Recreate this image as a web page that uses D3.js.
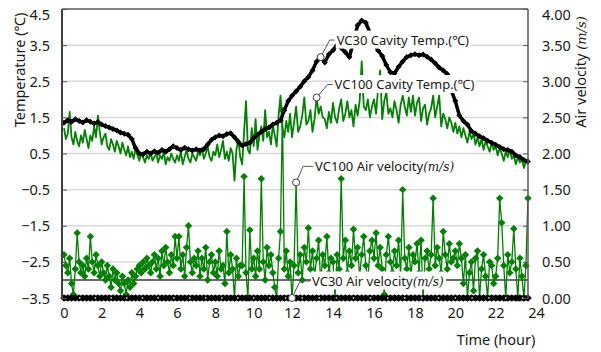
<!DOCTYPE html>
<html>
<head>
<meta charset="utf-8">
<script src="https://cdn.jsdelivr.net/npm/d3@7"></script>
<style>
  body { margin: 0; background: #fff; }
  svg { display: block; font-family: "Noto Sans", sans-serif; }
</style>
</head>
<body>
<svg id="chart"></svg>
<script>
// VC30 series are sampled every 0.2 hour, VC100 series every 0.1 hour, from 0:00
let coarseStep = 0.2
let fineStep = 0.1

let xTicks = [0, 2, 4, 6, 8, 10, 12, 14, 16, 18, 20, 22, 24]
let tempTicks = [-3.5, -2.5, -1.5, -0.5, 0.5, 1.5, 2.5, 3.5, 4.5]
let airTicks = [0, 0.5, 1, 1.5, 2, 2.5, 3, 3.5, 4]

// VC30 cavity temperature (deg C), every 0.2 h
let vc30Temp = [
  1.35, 1.42, 1.38, 1.45, 1.40, 1.36, 1.42, 1.38, 1.33, 1.37,
  1.30, 1.26, 1.22, 1.18, 1.14, 1.08, 1.05, 1.02, 0.90, 0.65,
  0.50, 0.48, 0.55, 0.50, 0.56, 0.52, 0.60, 0.55, 0.62, 0.70,
  0.65, 0.60, 0.66, 0.62, 0.58, 0.62, 0.58, 0.62, 0.75, 0.88,
  0.95, 1.00, 0.98, 1.04, 1.06, 0.95, 0.82, 0.72, 0.76, 0.80,
  0.92, 1.02, 1.10, 1.18, 1.22, 1.30, 1.35, 1.42, 1.70, 1.95,
  2.10, 2.22, 2.35, 2.50, 2.62, 2.80, 3.05, 3.17, 3.02, 3.25,
  3.36, 3.50, 3.42, 3.30, 3.17, 3.60, 4.05, 4.18, 4.12, 3.85,
  3.55, 3.35, 3.20, 2.95, 2.75, 2.72, 2.90, 3.05, 3.17, 3.22,
  3.25, 3.22, 3.24, 3.18, 3.10, 3.00, 2.88, 2.80, 2.70, 2.25,
  1.95, 1.55, 1.40, 1.30, 1.12, 1.05, 0.98, 0.92, 0.85, 0.80,
  0.74, 0.68, 0.62, 0.60, 0.55, 0.45, 0.40, 0.32, 0.28
]

// VC100 cavity temperature (deg C), every 0.1 h
let vc100Temp = [
  1.20, 0.90, 1.05, 1.65, 0.95, 0.75, 1.10, 0.85, 0.70, 1.00,
  0.80, 1.15, 0.90, 0.65, 1.00, 0.85, 1.25, 0.95, 1.55, 1.10,
  0.75, 0.95, 1.05, 0.70, 0.60, 0.90, 0.75, 0.55, 0.85, 0.70,
  0.50, 0.80, 0.60, 0.45, 0.70, 0.40, 0.55, 0.35, 0.65, 0.45,
  0.30, 0.50, 0.40, 0.25, 0.45, 0.35, 0.55, 0.30, 0.40, 0.50,
  0.25, 0.45, 0.35, 0.55, 0.20, 0.40, 0.30, 0.50, 0.35, 0.25,
  0.45, 0.30, 0.55, 0.20, 0.40, 0.60, 0.35, 0.25, 0.50, 0.40,
  0.30, 0.55, 0.45, 0.65, 0.35, 0.50, 0.70, 0.40, 0.30, 0.55,
  0.45, 0.75, 0.40, 0.60, 0.85, 0.35, 0.55, 0.30, 0.65, 0.50,
  -0.25, 0.60, 0.90, 0.40, 0.20, 1.10, 1.95, 0.60, 0.50, 1.20,
  0.70, 1.45, 0.60, 1.00, 1.25, 0.85, 1.70, 0.95, 1.10, 0.75,
  1.30, 1.00, 0.70, 1.55, 2.10, 1.20, 0.95, 1.40, 1.10, 1.60,
  0.95, 1.35, 1.80, 1.10, 1.25, 1.55, 2.05, 1.30, 1.40, 1.70,
  1.10, 1.45, 2.05, 1.60, 1.80, 1.50, 1.45, 1.20, 1.65, 1.35,
  1.90, 1.50, 1.35, 1.75, 2.00, 1.40, 1.60, 1.95, 1.50, 1.70,
  1.25, 1.85, 1.55, 1.95, 3.05, 1.80, 1.70, 2.00, 1.50, 1.80,
  2.00, 1.60, 2.30, 2.80, 1.45, 1.95, 2.20, 1.60, 1.75, 1.50,
  1.95, 1.70, 1.35, 1.85, 2.10, 1.80, 1.55, 2.05, 1.65, 2.10,
  1.55, 1.90, 2.05, 1.40, 1.75, 1.85, 1.30, 1.60, 1.75, 2.10,
  1.50, 1.80, 2.10, 1.25, 1.60, 1.45, 1.20, 1.50, 1.35, 1.10,
  1.35, 1.05, 1.25, 0.95, 1.20, 1.00, 0.80, 1.10, 0.90, 1.05,
  0.75, 0.95, 0.70, 0.90, 0.60, 0.85, 0.70, 0.55, 0.80, 0.60,
  0.70, 0.45, 0.65, 0.50, 0.30, 0.55, 0.40, 0.60, 0.35, 0.45,
  0.20, 0.40, 0.25, 0.35, 0.10, 0.30, 0.20
]

// VC100 air velocity (m/s), every 0.1 h
let vc100Air = [
  0.60, 0.45, 0.35, 0.55, 0.20, 0.05, 0.40, 0.90, 0.50, 0.35,
  0.45, 0.30, 0.55, 0.40, 0.85, 0.50, 0.35, 0.60, 0.45, 0.30,
  0.50, 0.35, 0.25, 0.45, 0.30, 0.15, 0.40, 0.25, 0.35, 0.20,
  0.10, 0.30, 0.20, 0.05, 0.25, 0.15, 0.35, 0.20, 0.30, 0.40,
  0.45, 0.35, 0.50, 0.40, 0.55, 0.45, 0.35, 0.50, 0.60, 0.40,
  0.55, 0.30, 0.65, 0.45, 0.70, 0.50, 0.35, 0.60, 0.45, 0.85,
  0.55, 0.85, 0.40, 0.60, 0.30, 0.70, 1.00, 0.50, 0.35, 0.55,
  0.45, 0.65, 0.30, 0.55, 0.40, 0.70, 0.25, 0.50, 0.60, 0.35,
  0.50, 0.30, 0.65, 0.40, 0.45, 0.20, 0.92, 0.35, 0.60, 0.40,
  0.00, 0.55, 0.30, 0.45, 0.45, 1.68, 0.35, 0.00, 0.94, 0.40,
  0.55, 0.30, 0.65, 0.40, 1.65, 0.50, 0.25, 0.70, 0.45, 0.60,
  0.35, 0.15, 0.00, 0.55, 0.92, 2.60, 0.40, 0.65, 0.30, 0.50,
  0.00, 0.45, 1.60, 0.35, 0.60, 0.25, 0.70, 0.50, 0.97, 0.40,
  0.65, 0.30, 0.55, 0.80, 0.20, 0.60, 0.45, 0.85, 0.35, 0.55,
  0.50, 0.00, 0.60, 0.40, 1.65, 0.55, 0.80, 0.35, 0.65, 0.45,
  0.95, 0.55, 0.70, 0.30, 0.60, 0.85, 0.45, 0.25, 0.65, 0.80,
  0.55, 0.90, 0.45, 0.70, 0.40, 0.05, 0.60, 0.85, 0.50, 0.35,
  0.65, 0.45, 0.80, 0.30, 1.50, 0.55, 0.40, 0.70, 0.30, 0.60,
  0.50, 0.75, 0.35, 0.80, 0.00, 0.55, 0.65, 0.40, 0.60, 1.38,
  0.45, 0.70, 0.55, 0.35, 0.92, 0.60, 0.40, 0.75, 0.50, 0.55,
  0.65, 0.45, 0.75, 0.55, 0.20, 0.60, 0.00, 0.35, 0.50, 0.10,
  0.55, 0.65, 0.00, 0.40, 0.60, 0.30, 0.00, 0.50, 0.45, 0.20,
  0.30, 0.55, 1.38, 1.04, 0.45, 0.00, 0.60, 0.35, 0.50, 0.96,
  0.40, 0.00, 0.55, 0.30, 0.00, 0.45, 1.38
]

// VC30 air velocity (m/s), every 0.2 h - stays at zero all day
let vc30Air = [
  0, 0, 0, 0, 0, 0, 0, 0, 0, 0, 0, 0, 0, 0, 0, 0, 0, 0, 0, 0,
  0, 0, 0, 0, 0, 0, 0, 0, 0, 0, 0, 0, 0, 0, 0, 0, 0, 0, 0, 0,
  0, 0, 0, 0, 0, 0, 0, 0, 0, 0, 0, 0, 0, 0, 0, 0, 0, 0, 0, 0,
  0, 0, 0, 0, 0, 0, 0, 0, 0, 0, 0, 0, 0, 0, 0, 0, 0, 0, 0, 0,
  0, 0, 0, 0, 0, 0, 0, 0, 0, 0, 0, 0, 0, 0, 0, 0, 0, 0, 0, 0,
  0, 0, 0, 0, 0, 0, 0, 0, 0, 0, 0, 0, 0, 0, 0, 0, 0, 0, 0
]

let width = 601
let height = 352
let plotLeft = 62
let plotRight = 528
let plotTop = 9
let plotBottom = 298

let green = '#008000'

let svg = d3.select('#chart')
    .attr('width', width)
    .attr('height', height)

// the time axis labels in the original are spaced a little unevenly
let xScale = d3.scaleLinear()
    .domain([0, 6, 12, 18, 24])
    .range([64, 177, 292, 415, 536])

let tempScale = d3.scaleLinear()
    .domain([-3.5, 4.5])
    .range([plotBottom, plotTop])

let airScale = d3.scaleLinear()
    .domain([0, 4])
    .range([plotBottom, plotTop])

let coarseX = (d, i) => xScale(i * coarseStep)
let fineX = (d, i) => xScale(i * fineStep)

// gridlines
svg.append('g')
    .selectAll('line')
    .data(tempTicks.slice(1, -1))
    .enter()
    .append('line')
    .attr('x1', plotLeft)
    .attr('x2', plotRight)
    .attr('y1', (d) => tempScale(d))
    .attr('y2', (d) => tempScale(d))
    .attr('stroke', '#d9d9d9')
    .attr('stroke-width', 1.5)

// reference line at 0.25 m/s
svg.append('line')
    .attr('x1', plotLeft)
    .attr('x2', plotRight)
    .attr('y1', airScale(0.25))
    .attr('y2', airScale(0.25))
    .attr('stroke', '#3a3a3a')
    .attr('stroke-width', 1.5)

let diamond = (size) => d3.symbol(d3.symbolSquare).size(size)

let drawSeries = (values, xOf, yScale, color, lineWidth, markerSize) => {
    let line = d3.line()
        .x(xOf)
        .y((d) => yScale(d))

    svg.append('path')
        .datum(values)
        .attr('d', line)
        .attr('fill', 'none')
        .attr('stroke', color)
        .attr('stroke-width', lineWidth)
        .attr('stroke-linejoin', 'round')

    if (markerSize) {
        svg.append('g')
            .selectAll('path')
            .data(values)
            .enter()
            .append('path')
            .attr('d', diamond(markerSize))
            .attr('transform', (d, i) => 'translate(' + xOf(d, i) + ',' + yScale(d) + ') rotate(45)')
            .attr('fill', color)
    }
}

drawSeries(vc100Air, fineX, airScale, green, 1.3, 28)
drawSeries(vc30Air, coarseX, airScale, '#000', 5, 30)
drawSeries(vc100Temp, fineX, tempScale, green, 1.8, 0)
drawSeries(vc30Temp, coarseX, tempScale, '#000', 3.5, 18)

// frame
svg.append('line')
    .attr('x1', plotLeft).attr('x2', plotRight)
    .attr('y1', plotTop).attr('y2', plotTop)
    .attr('stroke', '#595959').attr('stroke-width', 1.5)
svg.append('line')
    .attr('x1', plotLeft).attr('x2', plotLeft)
    .attr('y1', plotTop).attr('y2', plotBottom)
    .attr('stroke', '#404040').attr('stroke-width', 2)
svg.append('line')
    .attr('x1', plotRight).attr('x2', plotRight)
    .attr('y1', plotTop).attr('y2', plotBottom)
    .attr('stroke', '#595959').attr('stroke-width', 1.5)

// minor time ticks on the bottom band
svg.append('g')
    .selectAll('line')
    .data(d3.range(5 / 6, 23.7, 5 / 6))
    .enter()
    .append('line')
    .attr('x1', (d) => xScale(d))
    .attr('x2', (d) => xScale(d))
    .attr('y1', plotBottom - 1)
    .attr('y2', plotBottom + 1)
    .attr('stroke', '#aaa')
    .attr('stroke-width', 1.5)

// left axis
let yAxisLeft = d3.axisLeft(tempScale)
    .tickValues(tempTicks)
    .tickSize(-5)
    .tickPadding(12)
    .tickFormat(d3.format('.1f'))

let gLeft = svg.append('g')
    .attr('transform', 'translate(' + plotLeft + ',0)')
    .call(yAxisLeft)
gLeft.select('.domain').remove()
gLeft.selectAll('line').attr('stroke', '#595959')
gLeft.selectAll('text')
    .attr('font-size', 14.5)
    .attr('font-family', '"Noto Sans", sans-serif')
    .attr('fill', '#1a1a1a')
    .attr('dy', (d) => d === 4.5 ? '0.75em' : '0.35em')

// right axis
let yAxisRight = d3.axisRight(airScale)
    .tickValues(airTicks)
    .tickSize(-5)
    .tickPadding(14)
    .tickFormat(d3.format('.2f'))

let gRight = svg.append('g')
    .attr('transform', 'translate(' + plotRight + ',0)')
    .call(yAxisRight)
gRight.select('.domain').remove()
gRight.selectAll('line').attr('stroke', '#595959')
gRight.selectAll('text')
    .attr('font-size', 14.5)
    .attr('font-family', '"Noto Sans", sans-serif')
    .attr('fill', '#1a1a1a')
    .attr('dy', (d) => d === 4 ? '0.7em' : '0.35em')

// bottom axis
let xAxis = d3.axisBottom(xScale)
    .tickValues(xTicks)
    .tickSize(0)
    .tickPadding(10)

let gBottom = svg.append('g')
    .attr('transform', 'translate(0,' + plotBottom + ')')
    .call(xAxis)
gBottom.select('.domain').remove()
gBottom.selectAll('text')
    .attr('font-size', 14.5)
    .attr('font-family', '"Noto Sans", sans-serif')
    .attr('fill', '#1a1a1a')

// axis titles
svg.append('text')
    .attr('transform', 'translate(25,70) rotate(-90)')
    .attr('text-anchor', 'middle')
    .attr('font-size', 14.5)
    .attr('fill', '#1a1a1a')
    .text('Temperature (℃)')

let rightTitle = svg.append('text')
    .attr('transform', 'translate(586,72) rotate(-90)')
    .attr('text-anchor', 'middle')
    .attr('font-size', 14.5)
    .attr('fill', '#1a1a1a')
rightTitle.append('tspan').text('Air velocity ')
rightTitle.append('tspan')
    .attr('font-family', '"DejaVu Serif", serif')
    .attr('font-style', 'italic')
    .attr('font-size', 13)
    .text('(m/s)')

svg.append('text')
    .attr('x', 496)
    .attr('y', 345)
    .attr('text-anchor', 'middle')
    .attr('font-size', 14.5)
    .attr('fill', '#1a1a1a')
    .text('Time (hour)')

// callout labels pointing at a data point
let callout = (px, py, dx, dy, run, label, unit) => {
    let ex = px + dx
    let ey = py + dy
    let g = svg.append('g')

    let box = g.append('rect').attr('fill', '#fff')

    let t = g.append('text')
        .attr('x', ex + run + 2)
        .attr('y', ey)
        .attr('dy', '0.35em')
        .attr('font-size', 13)
        .attr('fill', '#1a1a1a')
    t.append('tspan').text(label)
    if (unit) {
        t.append('tspan')
            .attr('font-family', '"DejaVu Serif", serif')
            .attr('font-style', 'italic')
            .attr('font-size', 12)
            .text(unit)
    }

    let bb = t.node().getBBox()
    box.attr('x', bb.x - 1)
        .attr('y', bb.y)
        .attr('width', bb.width + 3)
        .attr('height', bb.height)

    g.append('polyline')
        .attr('points', [[px, py], [ex, ey], [ex + run, ey]].map((p) => p.join(',')).join(' '))
        .attr('fill', 'none')
        .attr('stroke', '#595959')
        .attr('stroke-width', 1)

    g.append('circle')
        .attr('cx', px)
        .attr('cy', py)
        .attr('r', 3.5)
        .attr('fill', '#fff')
        .attr('stroke', '#404040')
        .attr('stroke-width', 1)
}

callout(coarseX(0, 67), tempScale(vc30Temp[67]), 9, -17, 5, 'VC30 Cavity Temp.(℃)')
callout(fineX(0, 132), tempScale(vc100Temp[132]), 11, -13, 5, 'VC100 Cavity Temp.(℃)')
callout(fineX(0, 122), airScale(vc100Air[122]), 7, -16, 10, 'VC100 Air velocity', '(m/s)')
callout(coarseX(0, 60), airScale(vc30Air[60]), 8, -17, 10, 'VC30 Air velocity', '(m/s)')
</script>
</body>
</html>
